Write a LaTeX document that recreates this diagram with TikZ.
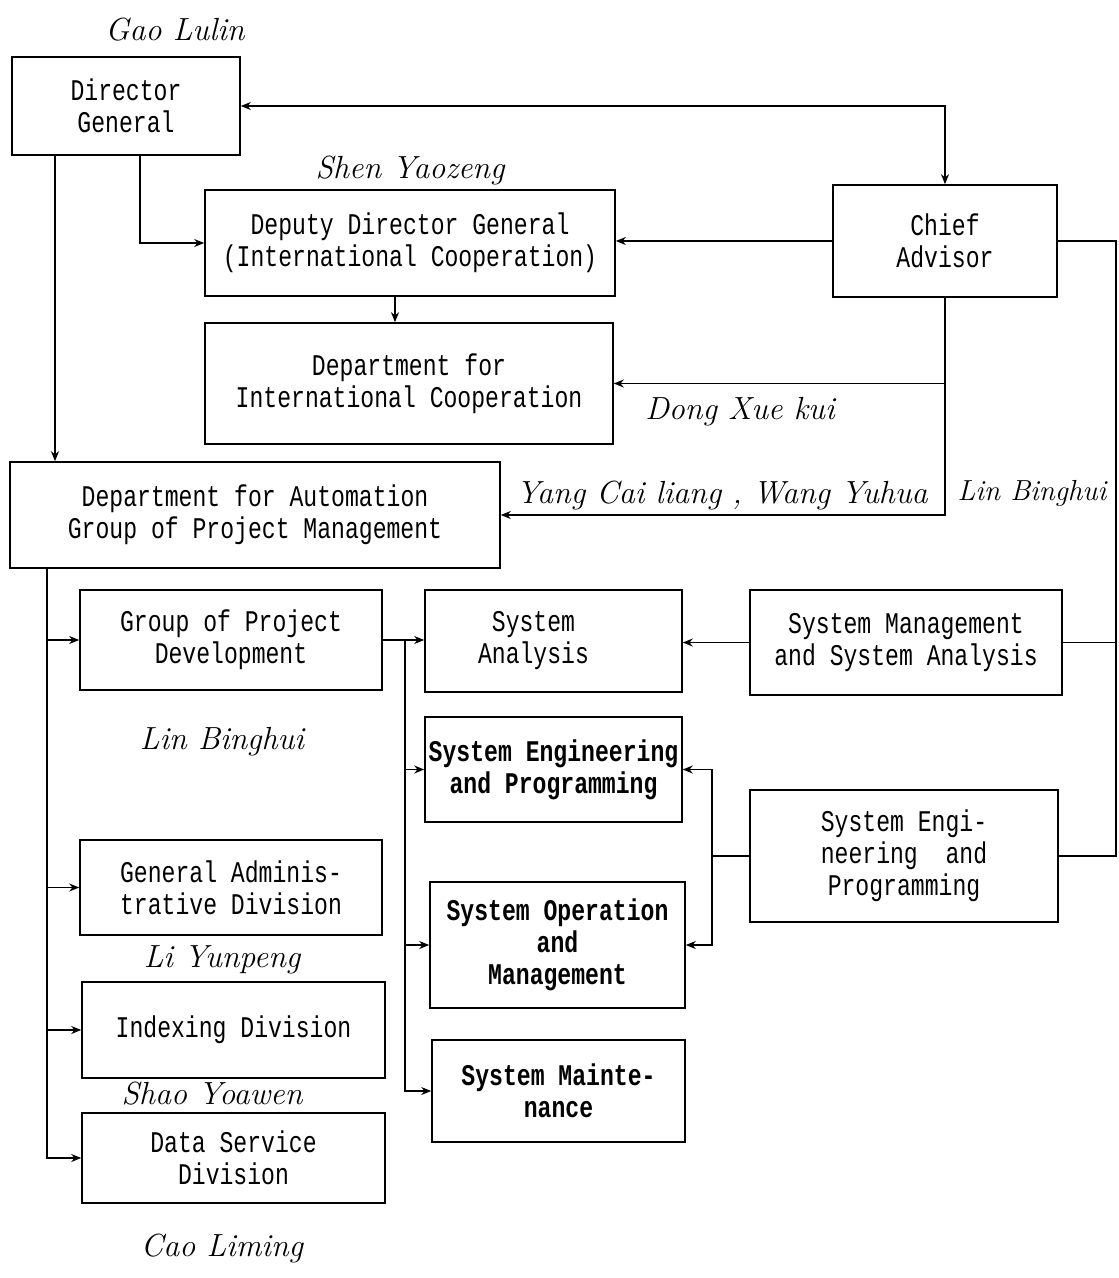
\documentclass[tikz,border=0pt]{standalone}
\usepackage{fontspec}
\newfontfamily\boxfont[FakeStretch=0.77]{Liberation Mono}
\usetikzlibrary{arrows.meta}
\begin{document}
\begin{tikzpicture}[x=1pt,y=-1pt,
  box/.style={draw, line width=1.6pt, inner sep=0pt, align=center,
    font=\boxfont\fontsize{30}{32}\selectfont},
  boldbox/.style={box, font=\boxfont\bfseries\fontsize{30}{32}\selectfont},
  hand/.style={inner sep=0pt, font=\itshape\fontsize{32}{34}\selectfont},
  con/.style={line width=1.5pt},
  arr/.style={line width=1.5pt, -{Stealth[length=10pt,width=8pt]}},
  darr/.style={line width=1.5pt, {Stealth[length=10pt,width=8pt]}-{Stealth[length=10pt,width=8pt]}}]
\fill[white] (0,0) rectangle (1119,1278);
\useasboundingbox (0,0) rectangle (1119,1278);

% boxes
\node[box, minimum width=228pt, minimum height=98pt] (dg) at (126,106) {Director\\General};
\node[box, minimum width=410pt, minimum height=106pt] (ddg) at (410,243) {Deputy Director General\\(International Cooperation)};
\node[box, minimum width=224pt, minimum height=112pt] (ca) at (945,241) {Chief\\Advisor};
\node[box, minimum width=408pt, minimum height=121pt] (dic) at (409,383.5) {Department for\\International Cooperation};
\node[box, minimum width=490pt, minimum height=106pt] (dfa) at (255,515) {Department for Automation\\Group of Project Management};
\node[box, minimum width=302pt, minimum height=100pt] (gpd) at (231,640) {Group of Project\\Development};
\node[box, minimum width=302pt, minimum height=95pt] (gad) at (231,887.5) {General Adminis-\\trative Division};
\node[box, minimum width=303pt, minimum height=96pt] (idx) at (233.5,1030) {Indexing Division};
\node[box, minimum width=303pt, minimum height=90pt] (dsd) at (233.5,1158) {Data Service\\Division};
\node[box, minimum width=257pt, minimum height=102pt] (sa) at (553.5,641) {System\hspace*{40pt}\\Analysis\hspace*{40pt}};
\node[box, minimum width=312pt, minimum height=105pt] (smsa) at (906,642.5) {System Management\\and System Analysis};
\node[boldbox, minimum width=257pt, minimum height=105pt] (sep) at (553.5,769.5) {System Engineering\\and Programming};
\node[box, minimum width=308pt, minimum height=132pt] (sep2) at (904,856) {System Engi-\\neering~~and\\Programming};
\node[boldbox, minimum width=255pt, minimum height=126pt] (som) at (557.5,945) {System Operation\\and\\Management};
\node[boldbox, minimum width=253pt, minimum height=102pt] (smn) at (558.5,1091) {System Mainte-\\nance};

% handwritten names
\node[hand] (n1) at (175,30) {Gao Lulin};
\node[hand] (n2) at (410,170) {Shen Yaozeng};
\node[hand] (n3) at (740,412) {Dong Xue kui};
\node[hand] (n4) at (722,495) {Yang Cai liang , Wang Yuhua};
\node[hand, font=\itshape\fontsize{29}{31}\selectfont] (n5) at (1032,493) {Lin Binghui};
\node[hand] (n6) at (222,742) {Lin Binghui};
\node[hand] (n7) at (222,960) {Li Yunpeng};
\node[hand] (n8) at (212,1094) {Shao Yoawen};
\node[hand] (n9) at (222,1248) {Cao Liming};

% helper coordinates
\coordinate (lx) at (47,0);
\coordinate (mx) at (405,0);
\coordinate (jx) at (712,0);
\coordinate (rx) at (1116,0);

% connectors top
\draw[darr] (dg.east) -- (ca.north |- dg.east) -- (ca.north);
\draw[arr] ([xshift=14pt]dg.south) |- (ddg.west);
\draw[arr] ([xshift=-71pt]dg.south) -- ([xshift=-71pt]dg.south |- dfa.north);
\draw[arr] (ca.west) -- (ca.west -| ddg.east);
\draw[arr] ([xshift=-15pt]ddg.south) -- ([xshift=-15pt]ddg.south |- dic.north);
\draw[arr] (ca.south) |- (dfa.east);
\draw[arr] (ca.south |- dic.east) -- (dic.east);
\draw[con] (ca.east) -- (ca.east -| rx) -- (sep2.east -| rx) -- (sep2.east);
\draw[con] (smsa.east) -- (smsa.east -| rx);

% left trunk
\draw[arr] (dfa.south -| lx) |- (dsd.west);
\draw[arr] (gpd.west -| lx) -- (gpd.west);
\draw[arr] (gad.west -| lx) -- (gad.west);
\draw[arr] (idx.west -| lx) -- (idx.west);

% middle trunk
\draw[arr] (gpd.east) -- (gpd.east -| sa.west);
\draw[arr] (gpd.east -| mx) |- (smn.west);
\draw[arr] (sep.west -| mx) -- (sep.west);
\draw[arr] (som.west -| mx) -- (som.west);

% right side
\draw[arr] (smsa.west) -- (smsa.west -| sa.east);
\draw[con] (sep2.west) -- (sep2.west -| jx);
\draw[arr] (sep2.west -| jx) |- (sep.east);
\draw[arr] (sep2.west -| jx) |- (som.east);
\end{tikzpicture}
\end{document}
